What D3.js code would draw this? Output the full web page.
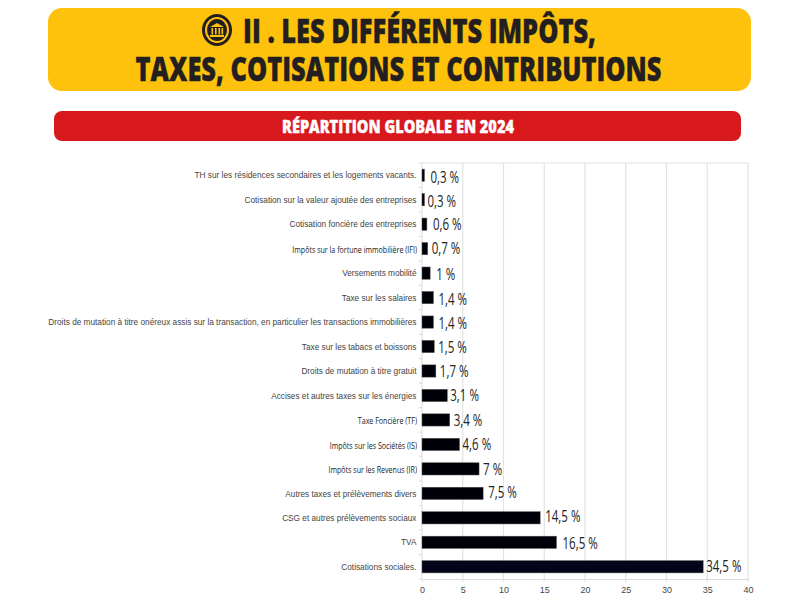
<!DOCTYPE html>
<html>
<head>
<meta charset="utf-8">
<script src="https://cdn.jsdelivr.net/npm/d3@7"></script>
<style>
  html, body { margin: 0; padding: 0; background: #fff; }
  svg { display: block; }
</style>
</head>
<body>
<div id="chart"></div>
<script>
// Data, top to bottom
const categories = [
  'TH sur les résidences secondaires et les logements vacants.',
  'Cotisation sur la valeur ajoutée des entreprises',
  'Cotisation foncière des entreprises',
  'Impôts sur la fortune immobilière (IFI)',
  'Versements mobilité',
  'Taxe sur les salaires',
  'Droits de mutation à titre onéreux assis sur la transaction, en particulier les transactions immobilières',
  'Taxe sur les tabacs et boissons',
  'Droits de mutation à titre gratuit',
  'Accises et autres taxes sur les énergies',
  'Taxe Foncière (TF)',
  'Impôts sur les Sociétés (IS)',
  'Impôts sur les Revenus (IR)',
  'Autres taxes et prélèvements divers',
  'CSG et autres prélèvements sociaux',
  'TVA',
  'Cotisations sociales.'
];
const values = [0.3, 0.3, 0.6, 0.7, 1, 1.4, 1.4, 1.5, 1.7, 3.1, 3.4, 4.6, 7, 7.5, 14.5, 16.5, 34.5];
const valueLabels = ['0,3 %', '0,3 %', '0,6 %', '0,7 %', '1 %', '1,4 %', '1,4 %', '1,5 %', '1,7 %', '3,1 %', '3,4 %', '4,6 %', '7 %', '7,5 %', '14,5 %', '16,5 %', '34,5 %'];
const xTicks = [0, 5, 10, 15, 20, 25, 30, 35, 40];
const titleLines = ['II . LES DIFFÉRENTS IMPÔTS,', 'TAXES, COTISATIONS ET CONTRIBUTIONS'];
const subtitle = 'RÉPARTITION GLOBALE EN 2024';

// Labels pasted by hand in the original, so each one sits a bit differently
const labelDx = [6, 3, 6, 4, 6, 5, 5, 4, 4, 3, 4, 3, 4, 5, 5, 6, 3];
const labelDy = [3, 2, 1, 0, 2, 2, 2, 1, 1, 1, 1, 1, 1, 0, -1, 2, 0];
// These labels use a narrower font in the reference
const narrowLabels = new Set([3, 10, 11, 12]);

const width = 800, height = 607;
const margin = { top: 163, right: 52, bottom: 28, left: 422 };

const svg = d3.select('#chart').append('svg')
  .attr('width', width)
  .attr('height', height);

// Title banner
svg.append('rect')
  .attr('x', 48).attr('y', 8)
  .attr('width', 703).attr('height', 83)
  .attr('rx', 14)
  .attr('fill', '#fec20c');

const titleFont = '"Open Sans", sans-serif';

function condensedText(parent, text, cx, baseline, size, fill, squeeze) {
  parent.append('text')
    .attr('transform', `translate(${cx},${baseline}) scale(${squeeze},1)`)
    .attr('text-anchor', 'middle')
    .attr('font-family', titleFont)
    .attr('font-weight', 800)
    .attr('font-size', size)
    .attr('fill', fill)
    .attr('stroke', fill)
    .attr('stroke-width', 0.4)
    .text(text);
}

condensedText(svg, titleLines[0], 419.5, 43, 33, '#231f20', 0.77);
condensedText(svg, titleLines[1], 398.5, 81, 33, '#231f20', 0.77);

// Bank icon in the title
const icon = svg.append('g').attr('transform', 'translate(217,30)');
icon.append('ellipse').attr('rx', 15).attr('ry', 16).attr('fill', '#231f20');
icon.append('ellipse').attr('rx', 12).attr('ry', 13).attr('fill', '#fec20c');
icon.append('ellipse').attr('rx', 10).attr('ry', 11).attr('fill', '#231f20');
icon.append('path').attr('d', 'M-7,-3 L0,-7 L7,-3 Z').attr('fill', '#fec20c');
icon.append('rect').attr('x', -7).attr('y', 5).attr('width', 14).attr('height', 2).attr('fill', '#fec20c');
[-5.5, -2, 1.5, 4.5].forEach(px => {
  icon.append('rect').attr('x', px).attr('y', -2).attr('width', 1.6).attr('height', 6.5).attr('fill', '#fec20c');
});

// Subtitle banner
svg.append('rect')
  .attr('x', 54).attr('y', 111)
  .attr('width', 687).attr('height', 30)
  .attr('rx', 8)
  .attr('fill', '#d7181d');
condensedText(svg, subtitle, 398, 132.5, 18, '#ffffff', 0.81);

// Scales
const x = d3.scaleLinear().domain([0, 40]).range([margin.left, width - margin.right]);
const y = d3.scaleBand().domain(categories).range([margin.top, height - margin.bottom]).paddingInner(0.5).paddingOuter(0.25);
const bottom = height - margin.bottom;

// Grid
svg.append('g').selectAll('line')
  .data(xTicks)
  .join('line')
  .attr('x1', d => x(d)).attr('x2', d => x(d))
  .attr('y1', margin.top).attr('y2', bottom + 3)
  .attr('stroke', '#e2e2e2')
  .attr('stroke-width', 1.2);
svg.append('line')
  .attr('x1', margin.left).attr('x2', width - margin.right)
  .attr('y1', margin.top).attr('y2', margin.top)
  .attr('stroke', '#e2e2e2').attr('stroke-width', 1.2);

// Axes
const xAxis = d3.axisBottom(x).tickValues(xTicks).tickSize(0).tickPadding(8);
const xG = svg.append('g').attr('transform', `translate(0,${bottom})`).call(xAxis);
xG.select('.domain').attr('stroke', '#d9d9d9').attr('stroke-width', 1.2);
xG.selectAll('text')
  .attr('font-family', '"Liberation Sans", sans-serif')
  .attr('font-size', 9)
  .attr('fill', '#444');

const step = (bottom - margin.top) / categories.length;
// Left tick marks sit between the bands
svg.append('g').selectAll('line')
  .data(d3.range(categories.length + 1))
  .join('line')
  .attr('x1', margin.left - 3).attr('x2', margin.left)
  .attr('y1', i => margin.top + i * step).attr('y2', i => margin.top + i * step)
  .attr('stroke', '#d9d9d9');

svg.append('g').selectAll('text')
  .data(categories)
  .join('text')
  .attr('text-anchor', 'end')
  .attr('dominant-baseline', 'middle')
  .attr('font-family', (d, i) => narrowLabels.has(i) ? '"Open Sans", sans-serif' : '"Liberation Sans", sans-serif')
  .attr('fill', (d, i) => narrowLabels.has(i) ? '#222' : '#444')
  .attr('font-size', (d, i) => narrowLabels.has(i) ? 9.2 : 8.25)
  .attr('transform', (d, i) => {
    const py = y(d) + y.bandwidth() / 2;
    return narrowLabels.has(i) ? `translate(417,${py + 2}) scale(0.77,1)` : `translate(416.5,${py + 1})`;
  })
  .text(d => d);

// Bars
svg.append('g').selectAll('rect')
  .data(values)
  .join('rect')
  .attr('x', x(0))
  .attr('y', (d, i) => y(categories[i]))
  .attr('width', d => x(d) - x(0))
  .attr('height', y.bandwidth())
  .attr('fill', (d, i) => i === values.length - 1 ? '#03031a' : '#000008')
  .attr('stroke', '#555')
  .attr('stroke-width', 0.5);

// Value labels
svg.append('g').selectAll('text')
  .data(valueLabels)
  .join('text')
  .attr('transform', (d, i) => {
    const px = x(values[i]) + labelDx[i];
    const py = y(categories[i]) + y.bandwidth() / 2 + 5 + labelDy[i];
    return `translate(${px},${py}) scale(0.72,1)`;
  })
  .attr('font-family', '"Open Sans", sans-serif')
  .attr('font-size', 16)
  .attr('fill', '#222')
  .text(d => d);
</script>
</body>
</html>
